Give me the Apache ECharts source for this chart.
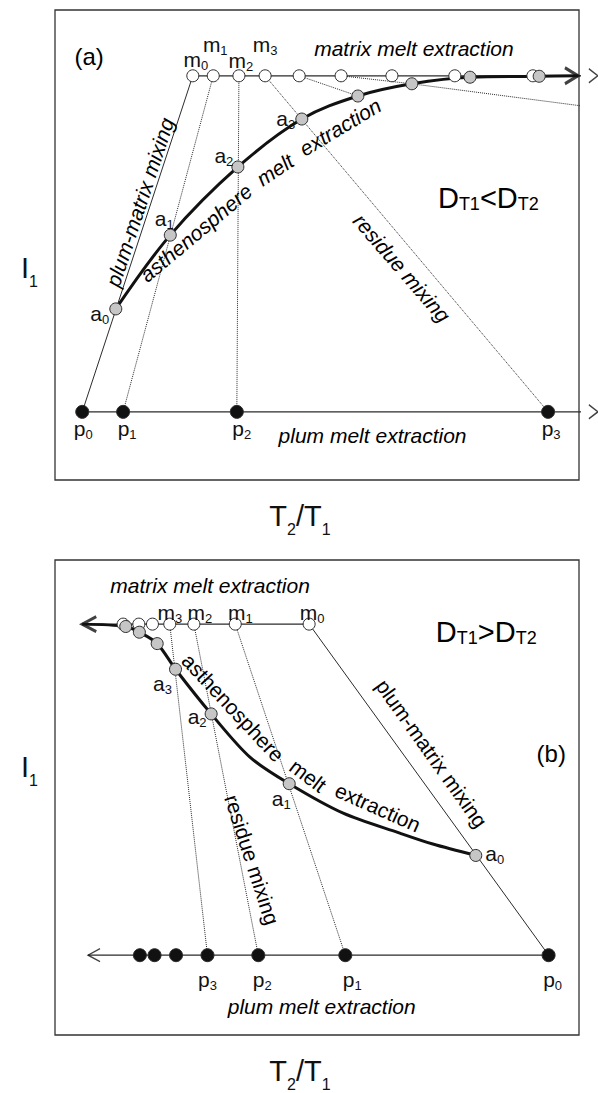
<!DOCTYPE html>
<html>
<head>
<meta charset="utf-8">
<script src="https://cdn.jsdelivr.net/npm/echarts@6/dist/echarts.min.js"></script>
<style>
  html, body { margin: 0; padding: 0; background: #fff; }
  #chart { width: 598px; height: 1093px; }
</style>
</head>
<body>
<div id="chart"></div>
<script>
// ---------- panel (a): D_T1 < D_T2 ----------
const aPlumeX  = [0.52, 1.30, 3.47, 9.41];                                  // p0..p3
const aPlumeY  = 1.45;
const aMatrixX = [2.63, 3.02, 3.51, 4.01, 4.66, 5.46, 6.43, 7.63, 9.12];  // m0..m8
const aMatrixY = 8.60;
const aAsthX   = [1.16, 2.20, 3.49, 4.71, 5.78, 6.81, 7.92, 9.24];        // a0..a7
const aAsthY   = [3.64, 5.21, 6.66, 7.68, 8.17, 8.43, 8.57, 8.59];
const aResidueTail = [10.25, 7.93];   // the a5 residue-mixing line runs out of the frame here
const aCurveEndX = 9.98;              // arrow tip of the asthenosphere path
const aAxisEndX  = 10.36;             // arrow tips of the plume / matrix paths

// ---------- panel (b): D_T1 > D_T2 ----------
const bPlumeX  = [9.42, 5.54, 3.88, 2.91, 2.31, 1.90, 1.62];               // p0..p6
const bPlumeY  = 1.68;
const bMatrixX = [4.85, 3.44, 2.65, 2.19, 1.86, 1.60, 1.30];               // m0..m6
const bMatrixY = 8.65;
const bAsthX   = [8.03, 4.47, 2.98, 2.30, 1.95, 1.61, 1.35];               // a0..a6
const bAsthY   = [3.78, 5.29, 6.76, 7.70, 8.24, 8.48, 8.60];
// asthenosphere path traced through and between the marked states
const bCurveX  = [8.03, 7.21, 6.58, 5.50, 4.47, 3.72, 2.98, 2.30, 1.95, 1.61, 1.35, 0.52];
const bCurveY  = [3.78, 4.02, 4.25, 4.67, 5.29, 5.85, 6.76, 7.70, 8.24, 8.48, 8.60, 8.65];
const bPlumeEndX = 0.63;

const pointNames = ['0', '1', '2', '3'];

const FONT = "'Liberation Sans', Arial, Helvetica, sans-serif";
const INK = '#111';
const LINE = '#2b2b2b';
const GREY = '#c6c6c6';

const subRich = {
  s: { fontSize: 13, fontFamily: FONT, color: INK, padding: [12, 0, 0, 0] }
};

const series = [];

function path(g, pts, style, z, smooth) {
  series.push({
    type: 'line', xAxisIndex: g, yAxisIndex: g, data: pts, symbol: 'none',
    clip: false, silent: true, z: z || 2, smooth: smooth || false,
    lineStyle: Object.assign({ color: LINE, width: 1 }, style)
  });
}

function markers(g, pts, fill, size, letter, offsets) {
  series.push({
    type: 'scatter', xAxisIndex: g, yAxisIndex: g, clip: false, silent: true, z: 5,
    symbol: 'circle', symbolSize: size,
    itemStyle: { color: fill, borderColor: LINE, borderWidth: 1, opacity: 1 },
    label: {
      show: false, position: 'inside', fontSize: 21, fontFamily: FONT, color: INK,
      textBorderWidth: 0, rich: subRich
    },
    data: pts.map((p, i) => {
      const item = { value: p };
      if (letter && i < offsets.length) {
        item.label = { show: true, formatter: letter + '{s|' + pointNames[i] + '}', offset: offsets[i] };
      }
      return item;
    })
  });
}

function arrow(g, x, y, dir, w, h, lw) {
  series.push({
    type: 'scatter', xAxisIndex: g, yAxisIndex: g, clip: false, silent: true, z: 4,
    symbol: dir > 0 ? 'path://M0,0L10,6L0,12' : 'path://M10,0L0,6L10,12',
    symbolSize: [w, h], symbolOffset: [-dir * w / 2, 0],
    itemStyle: { color: 'transparent', borderColor: '#111', borderWidth: lw },
    data: [[x, y]]
  });
}

function notes(g, list) {
  series.push({
    type: 'scatter', xAxisIndex: g, yAxisIndex: g, clip: false, silent: true, z: 6,
    symbol: 'circle', symbolSize: 1,
    itemStyle: { color: 'rgba(0,0,0,0)', opacity: 1 },
    emphasis: { disabled: true },
    label: {
      show: true, position: 'inside', fontSize: 21, fontFamily: FONT, color: '#000',
      opacity: 1, textBorderWidth: 0,
      rich: {
        P: { fontSize: 24, fontFamily: FONT, color: '#000' },
        N: { fontSize: 29, fontFamily: FONT, color: '#000' },
        S: { fontSize: 18, fontFamily: FONT, color: '#000', padding: [11, 0, 0, 0] }
      }
    },
    data: list.map(n => ({
      value: n.at,
      label: { formatter: n.text, rotate: n.rot || 0, fontStyle: n.italic ? 'italic' : 'normal' }
    }))
  });
}

// ---- panel (a) ----
const aPlume  = aPlumeX.map(x => [x, aPlumeY]);
const aMatrix = aMatrixX.map(x => [x, aMatrixY]);
const aAsth   = aAsthX.map((x, i) => [x, aAsthY[i]]);

path(0, [aPlume[0], [aAxisEndX, aPlumeY]], { width: 1.3 });
path(0, [aMatrix[0], [aAxisEndX, aMatrixY]], { width: 1.3 });
path(0, [aPlume[0], aMatrix[0]], { width: 1 });                   // plum-matrix mixing
for (let i = 1; i <= 3; i++) path(0, [aPlume[i], aMatrix[i]], { type: 'dotted', width: 1 });
path(0, [aMatrix[4], aAsth[4]], { type: 'dotted', width: 1 });
path(0, [aMatrix[5], aAsth[5], aResidueTail], { type: 'dotted', width: 1 });
path(0, aAsth.concat([[aCurveEndX, aMatrixY]]), { color: '#111', width: 3 }, 3, 0.35);
arrow(0, aCurveEndX, aMatrixY, 1, 13, 16, 3);
arrow(0, aAxisEndX, aMatrixY, 1, 9, 14, 1.3);
arrow(0, aAxisEndX, aPlumeY, 1, 9, 14, 1.3);

markers(0, aMatrix, '#fff', 12, 'm', [[3, -16], [2, -31], [2, -15], [0, -31]]);
markers(0, aAsth, GREY, 12, 'a', [[-16, 5], [-6, -17], [-14, -11], [-16, -1]]);
markers(0, aPlume, '#111', 13, 'p', [[1, 17], [4, 17], [5, 17], [3, 17]]);

notes(0, [
  { at: [0.65, 9.02], text: '{P|(a)}' },
  { at: [6.85, 9.19], text: 'matrix melt extraction', italic: true },
  { at: [6.06, 0.94], text: 'plum melt extraction', italic: true },
  { at: [8.27, 6.00], text: '{N|D}{S|T1}{N|<D}{S|T2}' },
  { at: [1.62, 5.91], text: 'plum-matrix mixing', rot: 71.7, italic: true },
  { at: [2.69, 5.26], text: 'asthenosphere', rot: 40, italic: true },
  { at: [4.20, 6.60], text: 'melt', rot: 34, italic: true },
  { at: [5.44, 7.51], text: 'extraction', rot: 31, italic: true },
  { at: [6.62, 4.51], text: 'residue mixing', rot: -49, italic: true }
]);

// ---- panel (b) ----
const bPlume  = bPlumeX.map(x => [x, bPlumeY]);
const bMatrix = bMatrixX.map(x => [x, bMatrixY]);
const bAsth   = bAsthX.map((x, i) => [x, bAsthY[i]]);
const bCurve  = bCurveX.map((x, i) => [x, bCurveY[i]]);

path(1, [bPlume[0], [bPlumeEndX, bPlumeY]], { width: 1.3 });
path(1, [bMatrix[0], [bCurveX[bCurveX.length - 1], bMatrixY]], { width: 1.3 });
path(1, [bMatrix[0], bPlume[0]], { width: 1 });                   // plum-matrix mixing
for (let i = 1; i <= 3; i++) path(1, [bMatrix[i], bPlume[i]], { type: 'dotted', width: 1 });
path(1, bCurve, { color: '#111', width: 3 }, 3, 0.3);
arrow(1, bCurveX[bCurveX.length - 1], bMatrixY, -1, 14, 15, 3);
arrow(1, bPlumeEndX, bPlumeY, -1, 12, 13, 1.3);

markers(1, bMatrix, '#fff', 12, 'm', [[3, -12], [5, -12], [6, -12], [0, -12]]);
markers(1, bAsth, GREY, 12, 'a', [[19, -2], [-8, 15], [-14, 3], [-13, 14]]);
markers(1, bPlume, '#111', 13, 'p', [[4, 24], [7, 24], [4, 24], [0, 24]]);

notes(1, [
  { at: [9.47, 5.93], text: '{P|(b)}' },
  { at: [2.96, 9.46], text: 'matrix melt extraction', italic: true },
  { at: [5.09, 0.61], text: 'plum melt extraction', italic: true },
  { at: [8.23, 8.48], text: '{N|D}{S|T1}{N|>D}{S|T2}' },
  { at: [7.19, 5.93], text: 'plum-matrix mixing', rot: -54.6 },
  { at: [3.40, 6.89], text: 'asthenosphere', rot: -47 },
  { at: [4.83, 5.46], text: 'melt', rot: -37 },
  { at: [6.16, 4.79], text: 'extraction', rot: -24 },
  { at: [3.76, 3.69], text: 'residue mixing', rot: -72 }
]);

// ---- axes: bare frames, named by the two ratios ----
const nameRich = {
  B: { fontSize: 29, fontFamily: FONT, color: INK },
  b: { fontSize: 16, fontFamily: FONT, color: INK, padding: [27, 0, 0, 0] }
};
function xAxis(g) {
  return {
    gridIndex: g, type: 'value', min: 0, max: 10,
    name: '{B|T}{b|2}{B|/T}{b|1}', nameLocation: 'middle', nameGap: 14,
    nameTextStyle: { rich: nameRich, padding: [0, 34, 0, 0] },
    axisLine: { show: false }, axisTick: { show: false },
    axisLabel: { show: false }, splitLine: { show: false }
  };
}
function yAxis(g, pad) {
  return {
    gridIndex: g, type: 'value', min: 0, max: 10,
    name: '{B|I}{b|1}', nameLocation: 'middle', nameGap: 17, nameRotate: 0,
    nameTextStyle: { rich: nameRich, padding: pad },
    axisLine: { show: false }, axisTick: { show: false },
    axisLabel: { show: false }, splitLine: { show: false }
  };
}

const chart = echarts.init(document.getElementById('chart'), null, { renderer: 'svg' });
chart.setOption({
  animation: false,
  backgroundColor: '#fff',
  grid: [
    { left: 55, top: 10, width: 524, height: 470, show: true, borderColor: '#333', borderWidth: 1.3, backgroundColor: 'transparent' },
    { left: 55, top: 560, width: 524, height: 482, show: true, borderColor: '#333', borderWidth: 1.3, backgroundColor: 'transparent' }
  ],
  xAxis: [xAxis(0), xAxis(1)],
  yAxis: [yAxis(0, [46, 0, 0, 0]), yAxis(1, [0, 0, 62, 0])],
  series: series
});
</script>
</body>
</html>
